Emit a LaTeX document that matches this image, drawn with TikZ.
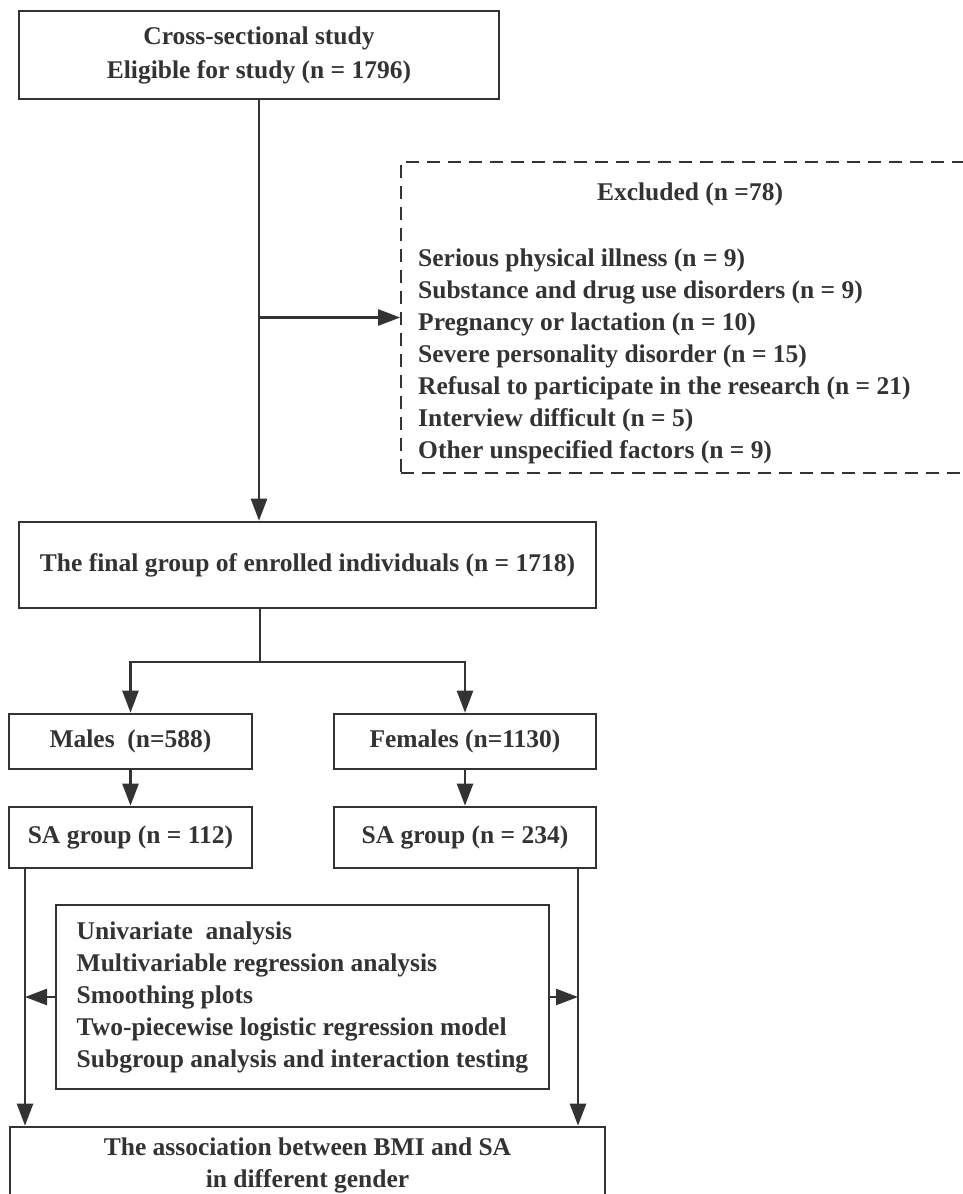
\documentclass[tikz,border=0pt]{standalone}
\usepackage{fontspec}
\setmainfont{Liberation Serif}
\usepackage{xcolor}
\usetikzlibrary{arrows.meta,positioning,calc}
\definecolor{ink}{HTML}{333333}

\begin{document}
\begin{tikzpicture}[x=1pt,y=-1pt,color=ink,line width=2.4pt,
   >={Triangle[length=22pt,width=16pt]},
   font=\fontsize{25.5}{32}\selectfont\bfseries,
   box/.style={draw,line width=2.6pt,align=center,inner sep=0pt}]
  \useasboundingbox (0,0) rectangle (962,1194);
  \node[box,minimum width=480pt,minimum height=88pt] (src) at (259,55)
    {Cross-sectional study\\[2pt]Eligible for study (n = 1796)};
  \node[draw,line width=1.7pt,dash pattern=on 13pt off 8pt,minimum width=578pt,minimum height=311pt] (excl) at (690,317.5) {};
  \node (excltitle) at (690,194) {Excluded (n =78)};
  \node[anchor=west,align=left,inner sep=0pt] (exclitems) at (417,356)
    {Serious physical illness (n = 9)\\Substance and drug use disorders (n = 9)\\Pregnancy or lactation (n = 10)\\Severe personality disorder (n = 15)\\Refusal to participate in the research (n = 21)\\Interview difficult (n = 5)\\Other unspecified factors (n = 9)};
  \node[box,minimum width=577pt,minimum height=86pt] (enr) at (307.5,565)
    {The final group of enrolled individuals (n = 1718)};
  \node[box,minimum width=243pt,minimum height=55pt] (male) at (130.5,741.5) {Males\ \ (n=588)};
  \node[box,minimum width=262pt,minimum height=55pt] (fem) at (465,741.5) {Females (n=1130)};
  \node[box,minimum width=243pt,minimum height=61pt] (msa) at (130.5,837.5) {SA group (n = 112)};
  \node[box,minimum width=262pt,minimum height=61pt] (fsa) at (465,837.5) {SA group (n = 234)};
  \node[box,minimum width=493pt,minimum height=184pt,align=left] (ana) at (302.5,997)
    {Univariate\ \ analysis\\Multivariable regression analysis\\Smoothing plots\\Two-piecewise logistic regression model\\Subgroup analysis and interaction testing};
  \node[box,minimum width=595pt,minimum height=76pt] (res) at (307.5,1165)
    {The association between BMI and SA\\in different gender};
  % connectors
  \coordinate (split) at (260,662);
  \coordinate (lbus) at (25,0);
  \coordinate (rbus) at (578,0);
  \draw[->] (src.south) -- (src.south |- enr.north);
  \draw[->] (src.south |- excl.west) -- (excl.west);
  \draw (split |- enr.south) -- (split);
  \draw[->] (split) -| (male.north);
  \draw[->] (split) -| (fem.north);
  \draw[->] (male) -- (msa);
  \draw[->] (fem) -- (fsa);
  \draw[->] (lbus |- msa.south) -- (lbus |- res.north);
  \draw[->] (rbus |- fsa.south) -- (rbus |- res.north);
  \draw[->] (ana.west) -- (lbus |- ana.west);
  \draw[->] (ana.east) -- (rbus |- ana.east);
\end{tikzpicture}
\end{document}
